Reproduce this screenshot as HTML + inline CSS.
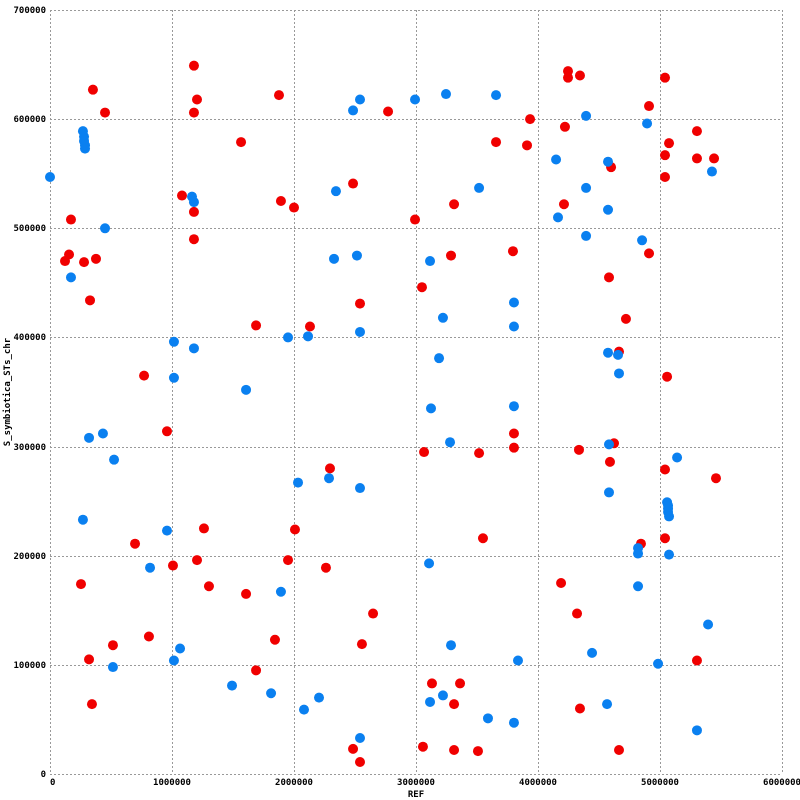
<!DOCTYPE html>
<html><head><meta charset="utf-8"><style>
html,body{margin:0;padding:0;background:#fff;}
svg{display:block;}
text{font-family:"DejaVu Sans Mono","Liberation Mono",monospace;font-size:9px;font-weight:bold;fill:#000;}
</style></head><body>
<svg id="chart" width="800" height="800">
<g id="grid"></g>
<g id="axes"></g>
<g id="marks"></g>
<text x="416" y="797" text-anchor="middle">REF</text>
<text transform="translate(10,392) rotate(-90)" text-anchor="middle">S_symbiotica_STs_chr</text>
</svg>
<script>
const xTicks=[0,1000000,2000000,3000000,4000000,5000000,6000000];
const yTicks=[0,100000,200000,300000,400000,500000,600000,700000];
// values in thousands
const blueX=[2541,2484,2992,270,279,279,287,287,0,1164,1180,2344,451,2328,2516,172,1016,1180,1951,2115,2541,1016,1607,320,434,525,2033,2287,2541,270,959,820,1893,1066,1016,516,1492,1812,2082,2205,2541,3246,3656,4394,4894,4148,4574,5426,3517,4394,4574,4164,4394,4853,3115,3803,3221,3803,3189,4574,4656,4664,3123,3803,3279,4582,5140,4582,5058,5066,5066,5066,5074,4820,4820,5074,3107,4820,5394,3287,4443,3836,4984,3221,3115,3590,3803,4566,5303];
const blueY=[618,608,618,589,584,580,576,573,547,529,524,534,500,472,475,455,396,390,400,401,405,363,352,308,312,288,267,271,262,233,223,189,167,115,104,98,81,74,59,70,33,623,622,603,596,563,561,552,537,537,517,510,493,489,470,432,418,410,381,386,384,367,335,337,304,302,290,258,249,246,243,240,236,207,202,201,193,172,137,118,111,104,101,72,66,51,47,64,40];
const redX=[352,451,1180,1205,1180,1877,2771,1566,2484,1082,1893,2000,1180,2992,172,1180,156,123,279,377,328,2541,1689,2131,771,959,2295,1262,2008,697,254,1008,1205,1951,2262,1303,1607,2648,811,516,1844,2557,320,1689,344,2484,2541,4246,4246,4344,5041,4910,3935,4221,5303,5074,5041,5303,5443,3656,3910,4599,5041,3312,4213,3795,3287,4910,3049,4582,4721,4664,5058,3803,3066,3517,3803,4336,4623,4590,5041,5459,3549,4844,5041,4189,4320,5303,3131,3361,3312,4344,3057,3312,3508,4664];
const redY=[627,606,649,618,606,622,607,579,541,530,525,519,515,508,508,490,476,470,469,472,434,431,411,410,365,314,280,225,224,211,174,191,196,196,189,172,165,147,126,118,123,119,105,95,64,23,11,644,638,640,638,612,600,593,589,578,567,564,564,579,576,556,547,522,522,479,475,477,446,455,417,387,364,312,295,294,299,297,303,286,279,271,216,211,216,175,147,104,83,83,64,60,25,22,21,22];

const NS='http://www.w3.org/2000/svg';
const L=50,R=782,T=10,B=774;
const xScale=v=>L+(v/6000000)*(R-L);
const yScale=v=>B-(v/700000)*(B-T);
const grid=document.getElementById('grid');
const axes=document.getElementById('axes');
const marks=document.getElementById('marks');
function mk(tag,attrs,parent){const e=document.createElementNS(NS,tag);for(const k in attrs)e.setAttribute(k,attrs[k]);parent.appendChild(e);return e;}
xTicks.forEach(t=>{
  const x=Math.round(xScale(t))+0.5;
  const ln=mk('line',{x1:x,x2:x,y1:T,y2:B,stroke:'#999','stroke-dasharray':'2,2'},grid);
  
  
  const tx=mk('text',{x:Math.round(xScale(t)),y:785,'text-anchor':t===0?'start':'middle'},axes);
  tx.textContent=String(t);
  
  
});
yTicks.forEach(t=>{
  const y=Math.round(yScale(t))+0.5;
  const ln=mk('line',{x1:L,x2:R,y1:y,y2:y,stroke:'#999','stroke-dasharray':'2,2'},grid);
  
  
  const tx=mk('text',{x:46,y:Math.round(yScale(t))+3,'text-anchor':'end'},axes);
  tx.textContent=String(t);
  
  
});
redX.forEach((v,i)=>{
  const c=mk('circle',{cx:xScale(v*1000),cy:yScale(redY[i]*1000),r:5,fill:'#f00000'},marks);
  
  
});
blueX.forEach((v,i)=>{
  const c=mk('circle',{cx:xScale(v*1000),cy:yScale(blueY[i]*1000),r:5,fill:'#0a80f0'},marks);
  
  
});
</script>
</body></html>
